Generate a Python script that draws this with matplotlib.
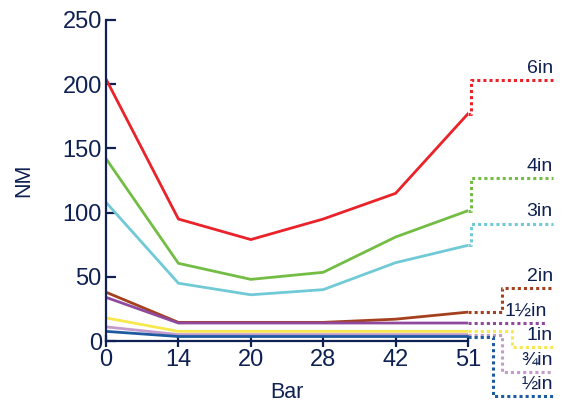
import matplotlib.pyplot as plt

plt.rcParams['font.family'] = ['Liberation Sans', 'DejaVu Sans']

NAVY = "#0f2152"

# data
bars = ["0", "14", "20", "28", "42", "51"]
nm_6in = [204, 95, 79, 95, 115, 177]
nm_4in = [142, 60.5, 48, 53.5, 81, 101.5]
nm_3in = [108, 45, 36, 40, 61, 74.5]
nm_2in = [38, 14.5, 14.5, 14.5, 17, 22.5]
nm_1_5in = [34, 14, 14, 14, 14, 14]
nm_1in = [18, 7.5, 7.5, 7.5, 7.5, 7.5]
nm_0_75in = [11, 5, 5, 5, 5, 5]
nm_0_5in = [7.5, 3.5, 3.5, 3.5, 3.5, 3.5]

sizes = ["6in", "4in", "3in", "2in", "1½in", "1in", "¾in", "½in"]
series = [nm_6in, nm_4in, nm_3in, nm_2in, nm_1_5in, nm_1in, nm_0_75in, nm_0_5in]
colors = ["#ea2229", "#74bd44", "#6fcad6", "#a5401f", "#8f4a9d", "#f7e84e", "#c49ccb", "#1d5aa0"]
# level of the label leader line, and where it turns (x in category units)
label_levels = [203, 127, 91.5, 41, 14, -5, -24, -43]
turn_x = [5.04, 5.04, 5.04, 5.47, None, 5.61, 5.47, 5.35]

fig = plt.figure(figsize=(5.63, 4.11), dpi=100)
ax = fig.add_axes([106 / 563, 70 / 411, 362 / 563, 321 / 411])

xs = list(range(len(bars)))
for i in range(len(series)):
    vals = series[i]
    ax.plot(xs, vals, color=colors[i], lw=2.0, solid_joinstyle="miter", zorder=3)
    end = vals[-1]
    lvl = label_levels[i]
    if turn_x[i] is None:
        px = [5, 6.09]
        py = [end, end]
        tx = 6.09
    else:
        px = [5, turn_x[i], turn_x[i], 6.17]
        py = [end, end, lvl, lvl]
        tx = 6.17
    ax.plot(px, py, color=colors[i], lw=2.2, linestyle=(0, (1, 1)),
            dash_capstyle="butt", clip_on=False, zorder=3)
    ax.text(tx, lvl + 2.5, sizes[i], ha="right", va="bottom", fontsize=14,
            color=NAVY, clip_on=False)

ax.set_xlim(0, 5)
ax.set_ylim(0, 250)
ax.set_xticks(xs)
ax.set_xticklabels(bars)
ax.set_yticks([0, 50, 100, 150, 200, 250])

for s in ["top", "right"]:
    ax.spines[s].set_visible(False)
for s in ["left", "bottom"]:
    ax.spines[s].set_color(NAVY)
    ax.spines[s].set_linewidth(1.6)
    ax.spines[s].set_zorder(4)

ax.tick_params(axis="y", direction="in", length=7, width=1.6, color=NAVY,
               labelcolor=NAVY, labelsize=17, pad=3)
ax.tick_params(axis="x", direction="inout", length=8, width=1.6, color=NAVY,
               labelcolor=NAVY, labelsize=17, pad=2)

ax.set_xlabel("Bar", fontsize=15.5, color=NAVY, labelpad=8)
ax.set_ylabel("NM", fontsize=15.5, color=NAVY, labelpad=20)

fig.savefig("out.png", dpi=100)
